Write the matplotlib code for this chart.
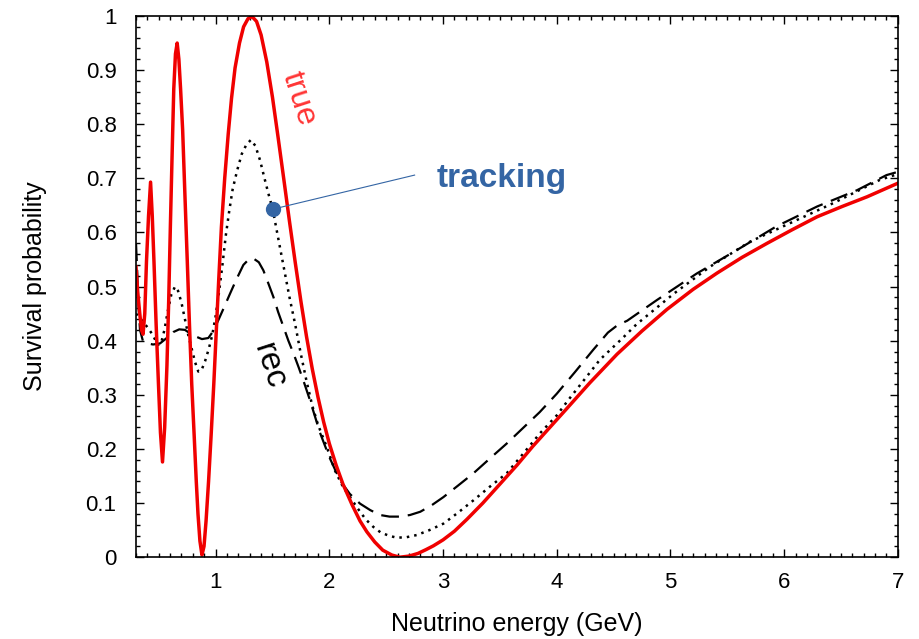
import matplotlib
matplotlib.use("Agg")
import matplotlib.pyplot as plt
from matplotlib.ticker import MultipleLocator, FuncFormatter

plt.rcParams['font.family'] = ['Liberation Sans', 'DejaVu Sans']

# ---- data ----
true_E = [0.30, 0.315, 0.332, 0.348, 0.362, 0.377, 0.392, 0.41, 0.428, 0.443, 0.458, 0.477,
          0.497, 0.515, 0.533, 0.552, 0.572, 0.587, 0.602, 0.617, 0.632, 0.647, 0.662, 0.677,
          0.692, 0.71, 0.73, 0.751, 0.77, 0.79, 0.811, 0.83, 0.845, 0.862, 0.880, 0.898,
          0.916, 0.938, 0.961, 0.984, 1.006, 1.028, 1.051, 1.08, 1.111, 1.14, 1.171, 1.21,
          1.246, 1.285, 1.32, 1.36, 1.40, 1.45, 1.50, 1.55, 1.60, 1.65, 1.70, 1.75, 1.80,
          1.85, 1.90, 1.95, 2.0, 2.06, 2.12, 2.2, 2.27, 2.33, 2.40, 2.47, 2.55, 2.62, 2.70,
          2.78, 2.85, 2.915, 3.0, 3.1, 3.21, 3.35, 3.50, 3.65, 3.79, 3.94, 4.09, 4.29, 4.53,
          4.75, 4.97, 5.2, 5.41, 5.63, 5.85, 6.07, 6.29, 6.51, 6.73, 7.0]
true_P = [0.536, 0.49, 0.452, 0.42, 0.412, 0.45, 0.546, 0.63, 0.693, 0.63, 0.546, 0.43,
          0.322, 0.23, 0.176, 0.24, 0.354, 0.47, 0.610, 0.74, 0.865, 0.93, 0.950, 0.92,
          0.865, 0.79, 0.67, 0.546, 0.43, 0.32, 0.227, 0.14, 0.08, 0.03, 0.004, 0.02,
          0.067, 0.14, 0.227, 0.32, 0.418, 0.515, 0.610, 0.70, 0.782, 0.848, 0.904, 0.950,
          0.980, 0.995, 0.999, 0.990, 0.965, 0.915, 0.850, 0.775, 0.698, 0.62, 0.545, 0.473, 0.407,
          0.348, 0.296, 0.25, 0.21, 0.17, 0.135, 0.097, 0.067, 0.047, 0.028, 0.013, 0.004, 0.0, 0.002,
          0.007, 0.014, 0.021, 0.032, 0.048, 0.070, 0.100, 0.135, 0.170, 0.205, 0.240, 0.275, 0.322, 0.375,
          0.418, 0.458, 0.495, 0.525, 0.554, 0.580, 0.605, 0.629, 0.648, 0.666, 0.691]

track_E = [0.30, 0.35, 0.40, 0.45, 0.49, 0.52, 0.55, 0.58, 0.61, 0.643, 0.67, 0.70, 0.73,
           0.76, 0.79, 0.82, 0.848, 0.875, 0.907, 0.94, 0.97, 1.0, 1.03, 1.06, 1.09, 1.12,
           1.15, 1.19, 1.23, 1.27, 1.31, 1.35, 1.39, 1.43, 1.464, 1.502, 1.55, 1.60, 1.65,
           1.70, 1.75, 1.80, 1.85, 1.90, 1.977, 2.05, 2.12, 2.182, 2.25, 2.32, 2.387, 2.45,
           2.52, 2.593, 2.68, 2.77, 2.88, 3.003, 3.13, 3.267, 3.41, 3.56, 3.70, 3.853, 4.0,
           4.1, 4.25, 4.38, 4.58, 4.70, 5.03, 5.35, 5.70, 6.05, 6.43, 6.84, 7.0]
track_P = [0.450, 0.438, 0.425, 0.41, 0.392, 0.395, 0.42, 0.455, 0.485, 0.500, 0.492, 0.47, 0.44,
           0.41, 0.385, 0.36, 0.343, 0.345, 0.362, 0.385, 0.41, 0.445, 0.49, 0.54, 0.595, 0.64,
           0.68, 0.715, 0.745, 0.762, 0.771, 0.76, 0.734, 0.70, 0.672, 0.643, 0.59, 0.535, 0.48,
           0.43, 0.375, 0.325, 0.28, 0.245, 0.204, 0.16, 0.13, 0.111, 0.09, 0.07, 0.056, 0.046,
           0.04, 0.036, 0.037, 0.041, 0.05, 0.062, 0.082, 0.105, 0.13, 0.155, 0.19, 0.229, 0.262,
           0.29, 0.33, 0.365, 0.405, 0.43, 0.487, 0.537, 0.583, 0.617, 0.654, 0.697, 0.708]

rec_E = [0.30, 0.31, 0.32, 0.335, 0.36, 0.40, 0.45, 0.511, 0.57, 0.628, 0.68, 0.73, 0.78,
         0.834, 0.88, 0.936, 0.98, 1.024, 1.075, 1.127, 1.18, 1.244, 1.29, 1.332, 1.38, 1.42,
         1.46, 1.508, 1.55, 1.596, 1.64, 1.684, 1.73, 1.771, 1.83, 1.918, 2.0, 2.094, 2.18,
         2.27, 2.36, 2.446, 2.53, 2.62, 2.71, 2.80, 2.90, 3.003, 3.13, 3.267, 3.41, 3.56,
         3.70, 3.85, 4.0, 4.16, 4.32, 4.45, 4.53, 4.62, 4.88, 5.23, 5.58, 5.93, 6.29, 6.64,
         6.90, 7.0]
rec_P = [0.580, 0.53, 0.47, 0.42, 0.400, 0.395, 0.393, 0.395, 0.405, 0.416, 0.421, 0.420, 0.413,
         0.407, 0.403, 0.405, 0.418, 0.438, 0.462, 0.487, 0.512, 0.540, 0.550, 0.552, 0.545, 0.530,
         0.508, 0.481, 0.453, 0.426, 0.40, 0.377, 0.351, 0.327, 0.29, 0.23, 0.185, 0.142, 0.117,
         0.099, 0.087, 0.078, 0.075, 0.075, 0.078, 0.084, 0.096, 0.111, 0.132, 0.155, 0.182, 0.210,
         0.238, 0.268, 0.302, 0.342, 0.383, 0.415, 0.428, 0.437, 0.475, 0.524, 0.567, 0.611, 0.648,
         0.678, 0.706, 0.712]

x_ticks = [1, 2, 3, 4, 5, 6, 7]
y_ticks = [0, 0.1, 0.2, 0.3, 0.4, 0.5, 0.6, 0.7, 0.8, 0.9, 1.0]

dot_E, dot_P = 1.502, 0.643
label_anchor = (2.75, 0.706)

fig = plt.figure(figsize=(9.19, 6.39), dpi=100)
ax = fig.add_axes([0.148, 0.128, 0.829, 0.847])

ax.plot(rec_E, rec_P, color='black', lw=1.6, linestyle=(0, (8, 4)), dash_capstyle='butt')
ax.plot(track_E, track_P, color='black', lw=1.8, linestyle=(0, (1, 2.0)), dash_capstyle='butt')
ax.plot(true_E, true_P, color='#f00000', lw=2.5, solid_joinstyle='round')

blue = '#3465a4'
ax.plot([dot_E, label_anchor[0]], [dot_P, label_anchor[1]], color=blue, lw=0.8)
ax.plot([dot_E], [dot_P], 'o', color=blue, markersize=10, zorder=5)
ax.text(3.52, 0.70, 'tracking', color=blue, fontsize=24, fontweight='bold',
        ha='center', va='center')
ax.text(1.73, 0.847, 'true', color='#ff3535', fontsize=23, rotation=-72,
        ha='center', va='center')
ax.text(1.465, 0.352, 'rec', color='black', fontsize=24, rotation=-72,
        ha='center', va='center')

ax.set_xlim(0.3, 7)
ax.set_ylim(0, 1)
ax.set_xticks(x_ticks)
ax.set_yticks(y_ticks)
ax.xaxis.set_minor_locator(MultipleLocator(0.1))
ax.yaxis.set_minor_locator(MultipleLocator(0.02))
ax.yaxis.set_major_formatter(FuncFormatter(lambda v, p: ('%g' % round(v, 2))))
ax.tick_params(which='both', direction='in', top=True, right=True, width=1.0,
               labelsize=16)
ax.tick_params(axis='y', pad=14)
ax.tick_params(axis='x', pad=11)
ax.tick_params(which='major', length=6)
ax.tick_params(which='minor', length=3)
for s in ax.spines.values():
    s.set_linewidth(1.2)

ax.set_xlabel('Neutrino energy (GeV)', fontsize=18, labelpad=13)
ax.set_ylabel('Survival probability', fontsize=18, labelpad=28)

fig.savefig('out.png', dpi=100)
